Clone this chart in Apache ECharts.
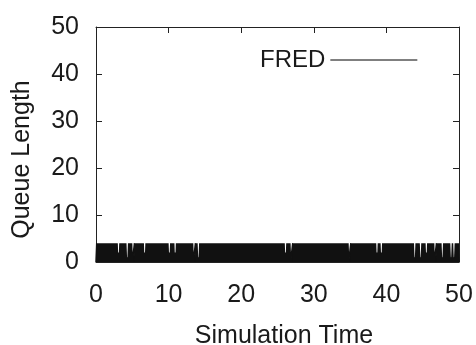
<!DOCTYPE html>
<html>
<head>
<meta charset="utf-8">
<script src="https://cdn.jsdelivr.net/npm/echarts@6/dist/echarts.min.js"></script>
<style>
html,body{margin:0;padding:0;background:#fff;}
#chart{width:476px;height:345px;}
</style>
</head>
<body>
<div id="chart"></div>
<script>
// Queue length samples, one row per simulation time unit (10 samples each)
const seriesName = "FRED";
const timeStart = 0;
const timeStep = 0.1;
const queueLength = [
  0,4,0,4,0,4,0,4,0,4, // 0
  0,4,0,4,0,4,0,4,0,4, // 1
  0,4,0,4,0,4,0,4,0,4, // 2
  0,2,0,4,0,4,0,4,0,4, // 3
  0,4,0,1,0,4,0,4,0,4, // 4
  0,0,0,4,0,4,0,4,0,4, // 5
  0,4,0,4,0,4,0,2,0,4, // 6
  0,4,0,4,0,4,0,4,0,4, // 7
  0,4,0,4,0,4,0,4,0,4, // 8
  0,4,0,4,0,4,0,4,0,4, // 9
  0,2,0,4,0,4,0,4,0,2, // 10
  0,4,0,4,0,4,0,4,0,4, // 11
  0,4,0,4,0,4,0,4,0,4, // 12
  0,4,0,4,0,0,0,4,0,4, // 13
  0,1,0,4,0,4,0,4,0,4, // 14
  0,4,0,4,0,4,0,4,0,4, // 15
  0,4,0,4,0,4,0,4,0,4, // 16
  0,4,0,4,0,4,0,4,0,4, // 17
  0,4,0,4,0,4,0,4,0,4, // 18
  0,4,0,4,0,4,0,4,0,4, // 19
  0,4,0,4,0,4,0,4,0,4, // 20
  0,4,0,4,0,4,0,4,0,4, // 21
  0,4,0,4,0,4,0,4,0,4, // 22
  0,4,0,4,0,4,0,4,0,4, // 23
  0,4,0,4,0,4,0,4,0,4, // 24
  0,4,0,4,0,4,0,4,0,4, // 25
  0,2,0,4,0,4,0,4,0,0, // 26
  0,4,0,4,0,4,0,4,0,4, // 27
  0,4,0,4,0,4,0,4,0,4, // 28
  0,4,0,4,0,4,0,4,0,4, // 29
  0,4,0,4,0,4,0,4,0,4, // 30
  0,4,0,4,0,4,0,4,0,4, // 31
  0,4,0,4,0,4,0,4,0,4, // 32
  0,4,0,4,0,4,0,4,0,4, // 33
  0,4,0,4,0,4,0,4,0,0, // 34
  0,4,0,4,0,4,0,4,0,4, // 35
  0,4,0,4,0,4,0,4,0,4, // 36
  0,4,0,4,0,4,0,4,0,4, // 37
  0,4,0,4,0,4,0,2,0,4, // 38
  0,4,0,2,0,4,0,4,0,4, // 39
  0,4,0,4,0,4,0,4,0,4, // 40
  0,4,0,4,0,4,0,4,0,4, // 41
  0,4,0,4,0,4,0,4,0,4, // 42
  0,4,0,4,0,4,0,4,0,1, // 43
  0,4,0,4,0,4,0,1,0,4, // 44
  0,4,0,4,0,2,0,4,0,4, // 45
  0,4,0,4,0,4,0,0,0,4, // 46
  0,4,0,4,0,4,0,1,0,4, // 47
  0,4,0,4,0,4,0,4,0,1, // 48
  0,4,0,1,0,4,0,4,0,4, // 49
  0
];
const xTicks = [0, 10, 20, 30, 40, 50];
const yTicks = [0, 10, 20, 30, 40, 50];
const xName = "Simulation Time";
const yName = "Queue Length";

const points = queueLength.map((v, i) => [timeStart + i * timeStep, v]);

const font = "'Liberation Sans', Arial, sans-serif";
const fontSize = 25;
const textColor = "#1a1a1a";
const lineColor = "#222";

function baseAxis(extra) {
  return Object.assign({
    type: 'value',
    min: 0, max: 50, interval: 10,
    axisLine: { show: true, onZero: false, lineStyle: { color: lineColor, width: 1 } },
    axisTick: { show: true, inside: true, length: 6, lineStyle: { color: lineColor, width: 1 } },
    splitLine: { show: false },
    axisLabel: { show: false }
  }, extra);
}

const chart = echarts.init(document.getElementById('chart'), null, { renderer: 'canvas' });
chart.setOption({
  animation: false,
  backgroundColor: '#fff',
  grid: { left: 96, right: 17, top: 27, bottom: 83, show: false, containLabel: false, outerBoundsMode: 'none' },
  legend: {
    show: true,
    data: [seriesName],
    left: 255, top: 43,
    align: 'right',
    itemWidth: 87, itemHeight: 14,
    textStyle: { fontFamily: font, fontSize: 24, color: textColor },
    itemStyle: { opacity: 0 },
    lineStyle: { width: 1, color: '#000', opacity: 1 }
  },
  xAxis: [
    baseAxis({
      position: 'bottom',
      axisLabel: { show: true, fontFamily: font, fontSize: fontSize, color: textColor, margin: 21,
        formatter: v => xTicks.includes(v) ? String(v) : '' },
      name: xName, nameLocation: 'middle', nameGap: 62,
      nameTextStyle: { fontFamily: font, fontSize: fontSize, color: textColor, padding: [0, 0, 0, 13] }
    }),
    baseAxis({ position: 'top' })
  ],
  yAxis: [
    baseAxis({
      position: 'left',
      axisLabel: { show: true, fontFamily: font, fontSize: fontSize, color: textColor, margin: 17,
        formatter: v => yTicks.includes(v) ? String(v) : '' },
      name: yName, nameLocation: 'middle', nameGap: 61,
      nameTextStyle: { fontFamily: font, fontSize: fontSize, color: textColor, padding: [0, 30, 0, 0] }
    }),
    baseAxis({ position: 'right' })
  ],
  series: [{
    name: seriesName,
    type: 'line',
    data: points,
    xAxisIndex: 0, yAxisIndex: 0,
    symbol: 'none', showSymbol: false,
    sampling: null,
    lineStyle: { color: '#111', width: 1.5 },
    itemStyle: { color: '#111' },
    areaStyle: { color: '#111', opacity: 1 }
  }]
});
</script>
</body>
</html>
